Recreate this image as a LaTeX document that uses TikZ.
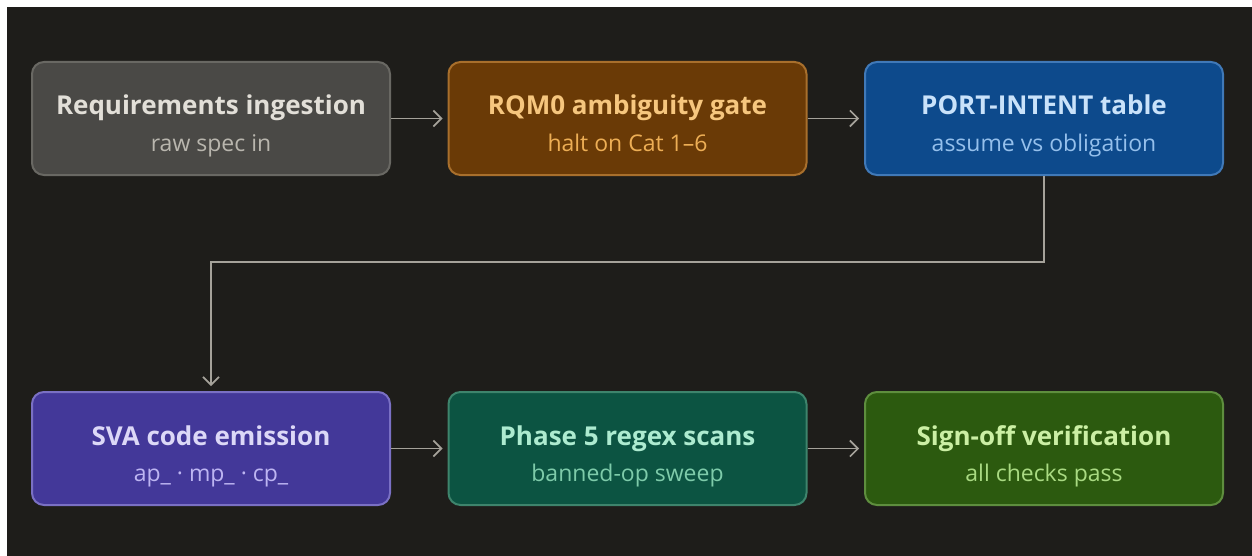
\documentclass[tikz,border=0pt]{standalone}
\usepackage{fontspec}
\setmainfont{Open Sans}
\usetikzlibrary{arrows.meta}
\definecolor{bg}{HTML}{1E1D1A}
\definecolor{arrowc}{HTML}{A5A29A}
\definecolor{gF}{HTML}{4A4946}\definecolor{gD}{HTML}{696863}\definecolor{gT}{HTML}{E2DFD8}\definecolor{gS}{HTML}{B9B6AE}
\definecolor{oF}{HTML}{6A3A06}\definecolor{oD}{HTML}{A86F2C}\definecolor{oT}{HTML}{F6C67E}\definecolor{oS}{HTML}{EDAE55}
\definecolor{bF}{HTML}{0D4A8C}\definecolor{bD}{HTML}{4079B8}\definecolor{bT}{HTML}{C9E2FA}\definecolor{bS}{HTML}{95C0EC}
\definecolor{pF}{HTML}{433899}\definecolor{pD}{HTML}{7A70C4}\definecolor{pT}{HTML}{DCD8F7}\definecolor{pS}{HTML}{BDB5F2}
\definecolor{tF}{HTML}{0C5442}\definecolor{tD}{HTML}{3E846C}\definecolor{tT}{HTML}{ADEBD0}\definecolor{tS}{HTML}{7ECBAA}
\definecolor{vF}{HTML}{2C5A0F}\definecolor{vD}{HTML}{5E8E3E}\definecolor{vT}{HTML}{CBEFA4}\definecolor{vS}{HTML}{A9DA82}
\begin{document}
\begin{tikzpicture}[x=0.5pt,y=-0.5pt,
  box/.style={draw, line width=1pt, rounded corners=6pt, minimum width=179pt, minimum height=56.5pt, inner sep=0pt},
  ttl/.style={anchor=base, inner sep=0pt, font=\fontsize{13}{15}\selectfont\bfseries},
  sub/.style={anchor=base, inner sep=0pt, font=\fontsize{11.5}{13}\selectfont},
  conn/.style={draw=arrowc, line width=0.8pt, -{Straight Barb[length=4pt,width=8pt]}, shorten >=2.5pt}]
\useasboundingbox (0,0) rectangle (1252,556);
\fill[white] (0,0) rectangle (1252,556);
\fill[bg] (7,7) rectangle (1252,556);
% row 1
\node[box, fill=gF, draw=gD] (b1) at (211,118.5) {};
\node[ttl, text=gT] (b1t) at (211,115) {Requirements ingestion};
\node[sub, text=gS] (b1s) at (211,151) {raw spec in};
\node[box, fill=oF, draw=oD] (b2) at (627.5,118.5) {};
\node[ttl, text=oT] (b2t) at (627.5,115) {RQM0 ambiguity gate};
\node[sub, text=oS] (b2s) at (627.5,151) {halt on Cat 1–6};
\node[box, fill=bF, draw=bD] (b3) at (1044,118.5) {};
\node[ttl, text=bT] (b3t) at (1044,115) {PORT-INTENT table};
\node[sub, text=bS] (b3s) at (1044,151) {assume vs obligation};
% row 2
\node[box, fill=pF, draw=pD] (b4) at (211,448.5) {};
\node[ttl, text=pT] (b4t) at (211,445) {SVA code emission};
\node[sub, text=pS] (b4s) at (211,481) {ap\_ · mp\_ · cp\_};
\node[box, fill=tF, draw=tD] (b5) at (627.5,448.5) {};
\node[ttl, text=tT] (b5t) at (627.5,445) {Phase 5 regex scans};
\node[sub, text=tS] (b5s) at (627.5,481) {banned-op sweep};
\node[box, fill=vF, draw=vD] (b6) at (1044,448.5) {};
\node[ttl, text=vT] (b6t) at (1044,445) {Sign-off verification};
\node[sub, text=vS] (b6s) at (1044,481) {all checks pass};
% connectors
\coordinate (bend) at (1044,262);
\draw[conn] (b1.east) -- (b2.west);
\draw[conn] (b2.east) -- (b3.west);
\draw[conn] (b3.south) -- (bend) -| (b4.north);
\draw[conn] (b4.east) -- (b5.west);
\draw[conn] (b5.east) -- (b6.west);
\end{tikzpicture}
\end{document}
